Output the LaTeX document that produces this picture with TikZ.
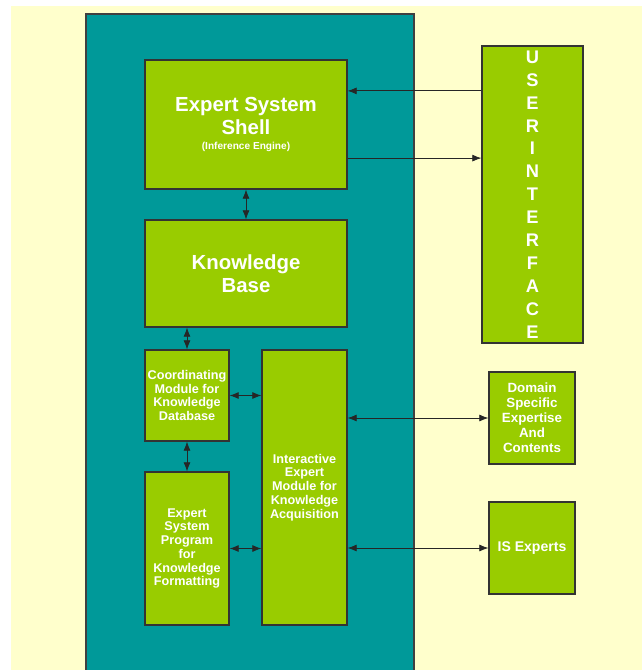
\documentclass[tikz,border=0pt]{standalone}
\usepackage{fontspec}
\setsansfont{Liberation Sans}
\usepackage{tikz}
\usetikzlibrary{arrows.meta}
\definecolor{paleyellow}{HTML}{FFFFCC}
\definecolor{seateal}{HTML}{009999}
\definecolor{leafgreen}{HTML}{99CC00}

\begin{document}
\begin{tikzpicture}[x=0.025cm,y=-0.025cm,
        box/.style={draw=black!80,line width=0.8pt,fill=leafgreen,text=white,
            font=\sffamily\bfseries\fontsize{9}{9.8}\selectfont,align=center,inner sep=1pt},
        bigbox/.style={box,font=\sffamily\bfseries\fontsize{14.5}{16.3}\selectfont},
        arr/.style={draw=black!85,line width=0.6pt,-{Latex[length=6.5pt,width=5pt]}},
        biarr/.style={draw=black!85,line width=0.6pt,{Latex[length=6.5pt,width=5pt]}-{Latex[length=6.5pt,width=5pt]}}]
    \useasboundingbox (0,0) rectangle (642,670);
    \fill[white] (0,0) rectangle (642,670);
    \fill[paleyellow] (11,6) rectangle (642,670);
    \fill[seateal] (86,14) rectangle (414,670);
    \draw[black!75,line width=0.8pt] (86,670) -- (86,14) -- (414,14) -- (414,670);

    % inside the system
    \node[bigbox,minimum width=5.05cm,minimum height=3.225cm] (shell) at (246,124.5)
        {Expert System\\Shell\\[-5pt]{\fontsize{7.2}{8}\selectfont (Inference Engine)}};
    \node[bigbox,minimum width=5.05cm,minimum height=2.675cm] (kb) at (246,273.5)
        {Knowledge\\Base};
    \node[box,minimum width=2.1cm,minimum height=2.275cm] (coord) at (187,395.5)
        {Coordinating\\Module for\\Knowledge\\Database};
    \node[box,minimum width=2.1cm,minimum height=3.825cm] (esp) at (187,548.5)
        {Expert\\System\\Program\\for\\Knowledge\\Formatting};
    \node[box,minimum width=2.125cm,minimum height=6.875cm] (inter) at (304.5,487.5)
        {Interactive\\Expert\\Module for\\Knowledge\\Acquisition};

    % outside
    \node[box,font=\sffamily\bfseries\fontsize{13}{16.3}\selectfont,
        minimum width=2.525cm,minimum height=7.425cm] (ui) at (532.5,194.5)
        {U\\S\\E\\R\\I\\N\\T\\E\\R\\F\\A\\C\\E};
    \node[box,font=\sffamily\bfseries\fontsize{9.5}{10.6}\selectfont,
        minimum width=2.15cm,minimum height=2.3cm] (domain) at (532,418)
        {Domain\\Specific\\Expertise\\And\\Contents};
    \node[box,font=\sffamily\bfseries\fontsize{10}{11}\selectfont,
        minimum width=2.15cm,minimum height=2.3cm] (isexp) at (532,548)
        {IS Experts};

    \coordinate (uiin) at ([yshift=0.84cm]shell.east);
    \coordinate (uiout) at ([yshift=-0.84cm]shell.east);
    \draw[arr] (uiin -| ui.west) -- (uiin);
    \draw[arr] (uiout) -- (uiout -| ui.west);
    \draw[biarr] (shell) -- (kb);
    \draw[biarr] (coord.north) -- (coord.north |- kb.south);
    \draw[biarr] (coord) -- (esp);
    \draw[biarr] (coord.east) -- (coord.east -| inter.west);
    \draw[biarr] (esp.east) -- (esp.east -| inter.west);
    \draw[biarr] (inter.east |- domain) -- (domain.west);
    \draw[biarr] (inter.east |- isexp) -- (isexp.west);
\end{tikzpicture}
\end{document}
